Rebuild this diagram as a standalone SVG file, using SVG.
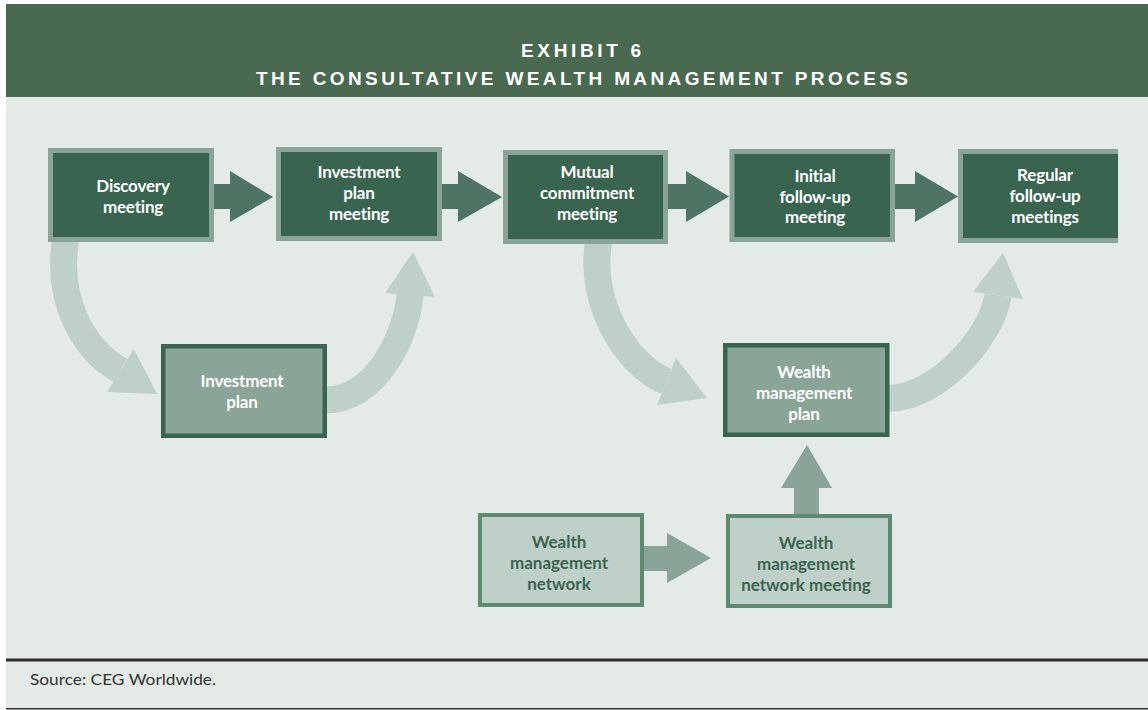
<svg xmlns="http://www.w3.org/2000/svg" width="1148" height="710" viewBox="0 0 1148 710">
<style>
.title{font-family:"Liberation Sans",Arial,sans-serif;font-weight:bold;font-size:19px;fill:#ffffff;text-anchor:middle}
.tw{font-family:Lato,"Open Sans","DejaVu Sans",sans-serif;font-weight:bold;font-size:17px;fill:#ffffff;text-anchor:middle;letter-spacing:-0.2px}
.tg{font-family:Lato,"Open Sans","DejaVu Sans",sans-serif;font-weight:bold;font-size:17px;fill:#3a6450;text-anchor:middle}
.src{font-family:Lato,"Open Sans","DejaVu Sans",sans-serif;font-size:15px;fill:#333333}
.top{fill:#386450;stroke:#8aa597;stroke-width:5}
.plan{fill:#8aa597;stroke:#386450;stroke-width:4.5}
.net{fill:#bfd0c8;stroke:#5f8a72;stroke-width:4}
.band{fill:none;stroke:#bfd0c8;stroke-width:27}
.bandhead{fill:#bfd0c8}
.dk{fill:#4e7564}
.md{fill:#8aa597}
</style>
<rect x="0" y="0" width="1148" height="710" fill="#ffffff"/>
<rect x="6" y="97" width="1142" height="612" fill="#e4ebe7"/>
<g id="header">
<rect x="6" y="4" width="1142" height="93" fill="#4a6951"/>
<text class="title" x="581" y="57" textLength="120" lengthAdjust="spacing">EXHIBIT 6</text>
<text class="title" x="582" y="85" textLength="652" lengthAdjust="spacing">THE CONSULTATIVE WEALTH MANAGEMENT PROCESS</text>
</g>
<g id="connectors">
<path class="band" d="M 66,238 C 55,300 84,350 120.5,370.5"/>
<polygon class="bandhead" points="107,392 134,349 157,394"/>
<path class="band" d="M 325,400 C 377,400 406.8,334.6 410,294.7"/>
<polygon class="bandhead" points="385,293 435,297 413,252"/>
<path class="band" d="M 599,240 C 587,302 627,366 666.5,381.5"/>
<polygon class="bandhead" points="657,405 676,358 707,398"/>
<path class="band" d="M 887,398.5 C 939,398.5 992.4,335 998,295.5"/>
<polygon class="bandhead" points="973,292 1023,299 1003,253"/>
<polygon class="dk" points="213,184 230,184 230,171 273,197 230,222 230,209 213,209"/>
<polygon class="dk" points="441,184 458,184 458,171 502,197 458,222 458,209 441,209"/>
<polygon class="dk" points="667,184 686,184 686,171 729,196.5 686,222 686,209 667,209"/>
<polygon class="dk" points="894,184 915,184 915,171 958,196.5 915,222 915,209 894,209"/>
<polygon class="md" points="643,546 667,546 667,533 711,558 667,583 667,571 643,571"/>
<polygon class="md" points="794,515 794,488 781,488 807,445 832,488 819,488 819,515"/>
</g>
<g id="discovery">
<rect class="top" x="50.5" y="150.5" width="161" height="89"/>
<text class="tw" x="133" y="192">Discovery</text>
<text class="tw" x="133" y="213">meeting</text>
</g>
<g id="investment-plan-meeting">
<rect class="top" x="278.5" y="149.5" width="161" height="89"/>
<text class="tw" x="359" y="178">Investment</text>
<text class="tw" x="359" y="199">plan</text>
<text class="tw" x="359" y="220">meeting</text>
</g>
<g id="mutual-commitment">
<rect class="top" x="505.5" y="152.5" width="160" height="89"/>
<text class="tw" x="587" y="178">Mutual</text>
<text class="tw" x="587" y="199">commitment</text>
<text class="tw" x="587" y="220">meeting</text>
</g>
<g id="initial-follow-up">
<rect class="top" x="732" y="151.5" width="160.5" height="88"/>
<text class="tw" x="815" y="181.5">Initial</text>
<text class="tw" x="815" y="202.5">follow-up</text>
<text class="tw" x="815" y="223">meeting</text>
</g>
<g id="regular-follow-up">
<rect x="958" y="149" width="160" height="94" fill="#8aa597"/>
<rect x="963" y="154" width="155" height="84" fill="#386450"/>
<text class="tw" x="1045" y="181">Regular</text>
<text class="tw" x="1045" y="202">follow-up</text>
<text class="tw" x="1045" y="222.5">meetings</text>
</g>
<g id="investment-plan">
<rect class="plan" x="163.25" y="346.25" width="161.5" height="89.5"/>
<text class="tw" x="242" y="387">Investment</text>
<text class="tw" x="242" y="408">plan</text>
</g>
<g id="wealth-management-plan">
<rect class="plan" x="725.25" y="345.25" width="162" height="89.5"/>
<text class="tw" x="804" y="378">Wealth</text>
<text class="tw" x="804" y="399">management</text>
<text class="tw" x="804" y="420">plan</text>
</g>
<g id="wealth-management-network">
<rect class="net" x="480" y="515" width="162" height="90"/>
<text class="tg" x="559" y="548">Wealth</text>
<text class="tg" x="559" y="569">management</text>
<text class="tg" x="559" y="590">network</text>
</g>
<g id="wealth-management-network-meeting">
<rect class="net" x="728" y="516" width="162" height="90"/>
<text class="tg" x="806" y="549">Wealth</text>
<text class="tg" x="806" y="570">management</text>
<text class="tg" x="806" y="591">network meeting</text>
</g>
<g id="footer">
<rect x="6" y="658.5" width="1142" height="3" fill="#2b2b2b"/>
<text class="src" x="30" y="685" textLength="186" lengthAdjust="spacingAndGlyphs">Source: CEG Worldwide.</text>
<rect x="6" y="708" width="1142" height="1.5" fill="#333333"/>
</g>
</svg>
